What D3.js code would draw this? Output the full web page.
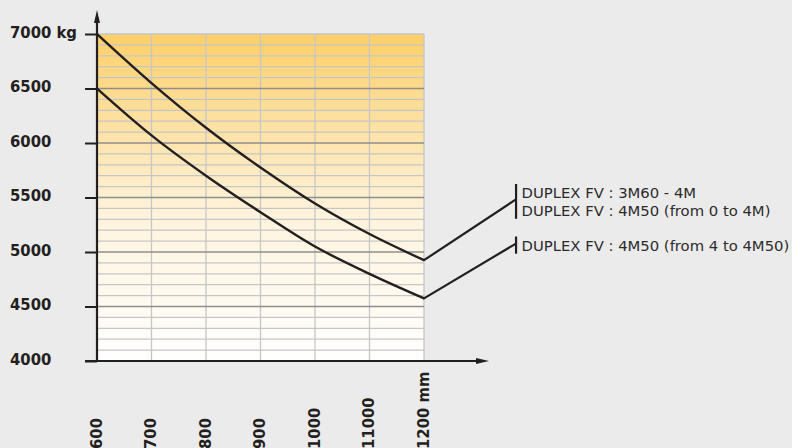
<!DOCTYPE html>
<html>
<head>
<meta charset="utf-8">
<script src="https://cdn.jsdelivr.net/npm/d3@7"></script>
<style>
  html, body { margin: 0; padding: 0; background: #ebebeb; }
  svg { display: block; }
</style>
</head>
<body>
<div id="vis-container"></div>
<script>
// chart values
var widths = [600, 700, 800, 900, 1000, 1100, 1200];
var xTickLabels = ["600", "700", "800", "900", "1000", "11000", "1200 mm"];
var upperLoad = [7000, 6550, 6140, 5775, 5445, 5165, 4925];
var lowerLoad = [6500, 6070, 5700, 5365, 5050, 4800, 4575];
var yTicks = [4000, 4500, 5000, 5500, 6000, 6500, 7000];
var yTickLabels = ["4000", "4500", "5000", "5500", "6000", "6500", "7000 kg"];
var seriesLabels = [
  ["DUPLEX FV : 3M60 - 4M", "DUPLEX FV : 4M50 (from 0 to 4M)"],
  ["DUPLEX FV : 4M50 (from 4 to 4M50)"]
];
// where the leader lines end (in data units)
var leaderX = 1368;
var leaderY = [5480, 5075];

var W = 792, H = 448;
var ink = "#231f20";
var font = "'DejaVu Sans Condensed', 'DejaVu Sans', sans-serif";
var legendFont = "'DejaVu Sans', sans-serif";

var xScale = d3.scaleLinear().domain([600, 1200]).range([97, 424]);
var yScale = d3.scaleLinear().domain([4000, 7000]).range([361, 34]);

var svg = d3.select("#vis-container")
  .append("svg")
    .attr("width", W)
    .attr("height", H);

svg.append("rect").attr("width", W).attr("height", H).attr("fill", "#ebebeb");

// background gradient of the plot
var grad = svg.append("defs").append("linearGradient")
  .attr("id", "bg").attr("x1", 0).attr("y1", 0).attr("x2", 0).attr("y2", 1);
grad.append("stop").attr("offset", "0%").attr("stop-color", "#fdcf68");
grad.append("stop").attr("offset", "55%").attr("stop-color", "#fff3dc");
grad.append("stop").attr("offset", "100%").attr("stop-color", "#ffffff");

svg.append("rect")
  .attr("x", xScale(600))
  .attr("y", yScale(7000))
  .attr("width", xScale(1200) - xScale(600))
  .attr("height", yScale(4000) - yScale(7000))
  .attr("fill", "url(#bg)");

// minor grid every 100 kg (the top edge is light too)
var minor = d3.range(4100, 7001, 100).filter(function(v) { return v % 500 != 0 || v == 7000; });
svg.append("g").selectAll("line")
  .data(minor)
  .enter().append("line")
    .attr("x1", xScale(600)).attr("x2", xScale(1200))
    .attr("y1", function(d) { return yScale(d); })
    .attr("y2", function(d) { return yScale(d); })
    .attr("stroke", "#c6c6c6").attr("stroke-width", 1.3);

// vertical grid
svg.append("g").selectAll("line")
  .data(widths.slice(1))
  .enter().append("line")
    .attr("x1", function(d) { return xScale(d); })
    .attr("x2", function(d) { return xScale(d); })
    .attr("y1", yScale(7000)).attr("y2", yScale(4000))
    .attr("stroke", "#c6c6c6").attr("stroke-width", 1.3);

// major grid every 500 kg
svg.append("g").selectAll("line")
  .data(yTicks.slice(1, -1))
  .enter().append("line")
    .attr("x1", xScale(600)).attr("x2", xScale(1200))
    .attr("y1", function(d) { return yScale(d); })
    .attr("y2", function(d) { return yScale(d); })
    .attr("stroke", "#8e8e8e").attr("stroke-width", 1.5);

// y axis ticks on the left
var yAxis = d3.axisLeft(yScale)
  .tickValues(yTicks)
  .tickSize(12)
  .tickFormat("");
var yg = svg.append("g")
  .attr("transform", "translate(" + xScale(600) + ",0)")
  .call(yAxis);
yg.select(".domain").remove();
yg.selectAll(".tick line").attr("stroke", ink).attr("stroke-width", 2);

svg.append("g").selectAll("text")
  .data(yTicks)
  .enter().append("text")
    .attr("x", 10)
    .attr("y", function(d) { return yScale(d) + 3.6; })
    .style("font-family", font)
    .style("font-weight", "bold")
    .style("font-size", "16.5px")
    .attr("fill", ink)
    .text(function(d, i) { return yTickLabels[i]; });

// axes with arrows
svg.append("line")
  .attr("x1", xScale(600)).attr("x2", xScale(600))
  .attr("y1", yScale(4000)).attr("y2", 20)
  .attr("stroke", ink).attr("stroke-width", 2.2);
svg.append("path")
  .attr("d", "M" + xScale(600) + ",10 L" + (xScale(600) - 3) + ",23 L" + (xScale(600) + 3) + ",23 Z")
  .attr("fill", ink);

svg.append("line")
  .attr("x1", 85).attr("x2", 478)
  .attr("y1", yScale(4000)).attr("y2", yScale(4000))
  .attr("stroke", ink).attr("stroke-width", 2.2);
svg.append("path")
  .attr("d", "M489," + yScale(4000) + " L476," + (yScale(4000) - 3) + " L476," + (yScale(4000) + 3) + " Z")
  .attr("fill", ink);

// rotated x labels
svg.append("g").selectAll("text")
  .data(widths)
  .enter().append("text")
    .attr("transform", function(d) {
      return "translate(" + (xScale(d) + 4.5) + ",449) rotate(-90)";
    })
    .style("font-family", font)
    .style("font-weight", "bold")
    .style("font-size", "16.5px")
    .attr("fill", ink)
    .text(function(d, i) { return xTickLabels[i]; });

// curves
var line = d3.line()
  .x(function(d, i) { return xScale(widths[i]); })
  .y(function(d) { return yScale(d); })
  .curve(d3.curveMonotoneX);

[upperLoad, lowerLoad].forEach(function(s, k) {
  svg.append("path")
    .datum(s)
    .attr("d", line)
    .attr("fill", "none")
    .attr("stroke", ink)
    .attr("stroke-width", 2.4);

  // leader to the label
  svg.append("line")
    .attr("x1", xScale(1200)).attr("y1", yScale(s[s.length - 1]))
    .attr("x2", xScale(leaderX)).attr("y2", yScale(leaderY[k]))
    .attr("stroke", ink).attr("stroke-width", 2.2)
    .attr("stroke-linecap", "round");
});

// label bars and texts
var lx = xScale(leaderX);
var lineStep = 17.5;
var blocks = [{ top: 184, base: 198.3 }, { top: 236.5, base: 250.7 }];
seriesLabels.forEach(function(lines, k) {
  var b = blocks[k];
  var bottom = b.base + (lines.length - 1) * lineStep + 3;
  svg.append("line")
    .attr("x1", lx + 0.5).attr("x2", lx + 0.5)
    .attr("y1", b.top).attr("y2", bottom)
    .attr("stroke", ink).attr("stroke-width", 2.2);
  lines.forEach(function(t, j) {
    svg.append("text")
      .attr("x", lx + 6)
      .attr("y", b.base + j * lineStep)
      .style("font-family", legendFont)
      .style("font-size", "14.8px")
      .attr("fill", "#2b2b2b")
      .text(t);
  });
});
</script>
</body>
</html>
